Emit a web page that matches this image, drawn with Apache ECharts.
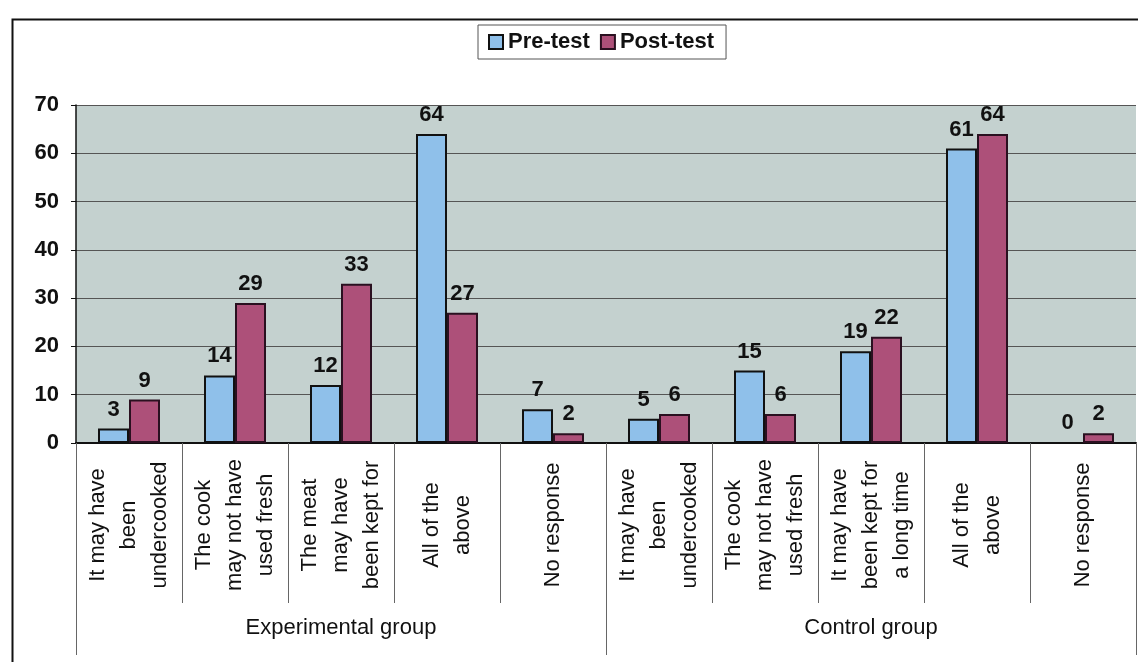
<!DOCTYPE html>
<html>
<head>
<meta charset="utf-8">
<script src="https://cdn.jsdelivr.net/npm/echarts@6/dist/echarts.min.js"></script>
<style>
  html, body { margin: 0; padding: 0; background: #fff; }
  #main { width: 1138px; height: 662px; }
</style>
</head>
<body>
<div id="main"></div>
<script>
// categories (two groups of five answers)
const categories = [
  'It may have\nbeen\nundercooked',
  'The cook\nmay not have\nused fresh',
  'The meat\nmay have\nbeen kept for',
  'All of the\nabove',
  'No response',
  'It may have\nbeen\nundercooked',
  'The cook\nmay not have\nused fresh',
  'It may have\nbeen kept for\na long time',
  'All of the\nabove',
  'No response'
];
const groups = ['Experimental group', 'Control group'];
const preTest = [3, 14, 12, 64, 7, 5, 15, 19, 61, 0];
const postTest = [9, 29, 33, 27, 2, 6, 6, 22, 64, 2];

const FONT = 'Liberation Sans, Arial, sans-serif';

const chartDom = document.getElementById('main');
const myChart = echarts.init(chartDom);

const barLabel = {
  show: true,
  position: 'top',
  distance: 8,
  fontFamily: FONT,
  fontSize: 22,
  fontWeight: 'bold',
  color: '#111'
};

const option = {
  animation: false,
  backgroundColor: '#fff',
  graphic: [{
    type: 'rect',
    left: 10, top: 17,
    shape: { width: 1200, height: 700 },
    style: { fill: 'none', stroke: '#111', lineWidth: 2 },
    silent: true
  }],
  legend: {
    left: 478,
    top: 25,
    icon: 'rect',
    itemWidth: 14,
    itemHeight: 14,
    itemGap: 10,
    padding: [6, 12, 6, 10],
    backgroundColor: '#fff',
    borderColor: '#555',
    borderWidth: 1,
    textStyle: { fontFamily: FONT, fontSize: 22, fontWeight: 'bold', color: '#111' },
    data: ['Pre-test', 'Post-test']
  },
  grid: {
    left: 76,
    right: 2,
    top: 105,
    bottom: 219,
    show: true,
    backgroundColor: '#c4d1cf',
    borderWidth: 0
  },
  xAxis: [
    {
      type: 'category',
      data: categories,
      position: 'bottom',
      axisLine: { lineStyle: { color: '#111', width: 2 } },
      axisTick: { show: true, length: 160, lineStyle: { color: '#666', width: 1 } },
      axisLabel: {
        interval: 0,
        rotate: 90,
        margin: 82,
        align: 'center',
        verticalAlign: 'middle',
        lineHeight: 31,
        fontFamily: FONT,
        fontSize: 22,
        color: '#111'
      }
    },
    {
      type: 'category',
      data: groups,
      position: 'bottom',
      axisLine: { show: false },
      axisTick: { show: true, length: 212, lineStyle: { color: '#666', width: 1 } },
      axisLabel: {
        interval: 0,
        margin: 174,
        fontFamily: FONT,
        fontSize: 22,
        color: '#111'
      }
    }
  ],
  yAxis: {
    type: 'value',
    min: 0,
    max: 70,
    interval: 10,
    axisLine: { show: true, lineStyle: { color: '#111', width: 1.5 } },
    axisTick: { show: true, length: 5, lineStyle: { color: '#111' } },
    splitLine: { lineStyle: { color: '#555', width: 1 } },
    axisLabel: {
      margin: 17,
      fontFamily: FONT,
      fontSize: 22,
      fontWeight: 'bold',
      color: '#111'
    }
  },
  series: [
    {
      name: 'Pre-test',
      type: 'bar',
      data: preTest,
      barWidth: 31,
      barGap: '0%',
      itemStyle: { color: '#8fc0ea', borderColor: '#111', borderWidth: 2 },
      label: barLabel
    },
    {
      name: 'Post-test',
      type: 'bar',
      data: postTest,
      barWidth: 31,
      barGap: '0%',
      itemStyle: { color: '#ad5079', borderColor: '#2a1020', borderWidth: 2 },
      label: barLabel
    }
  ]
};

myChart.setOption(option);
</script>
</body>
</html>
